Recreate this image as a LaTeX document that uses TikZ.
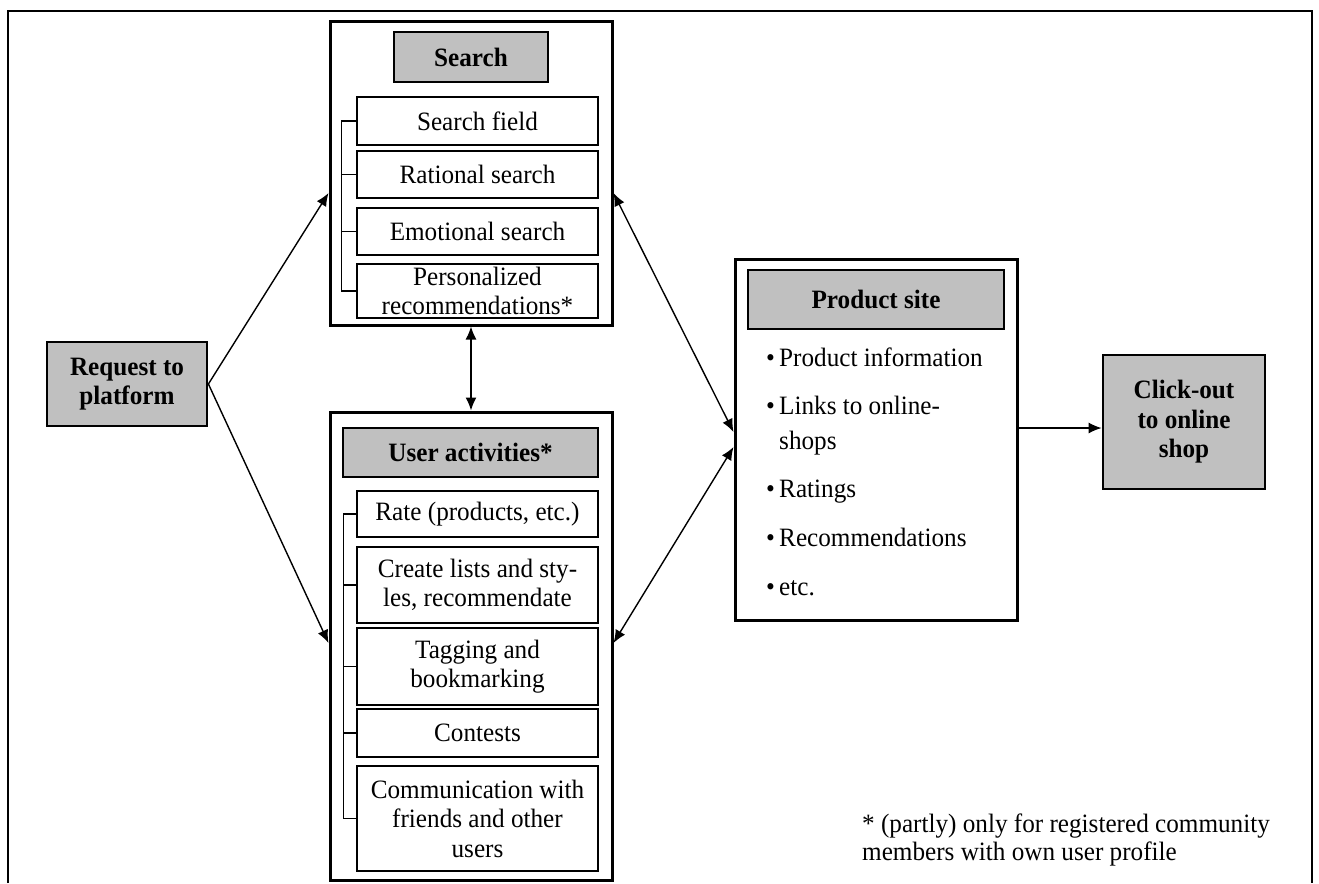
\documentclass[tikz,border=0pt]{standalone}
\usepackage{fontspec}
\setmainfont{Liberation Serif}[FakeStretch=0.95]
\usetikzlibrary{arrows.meta,calc}
\definecolor{hdr}{HTML}{C0C0C0}
\begin{document}
\begin{tikzpicture}[x=1pt,y=-1pt,
  outer/.style={draw,line width=3pt,inner sep=0pt,minimum width=282pt},
  sub/.style={draw,line width=2.8pt,inner sep=0pt,align=center,minimum width=241pt,
     font=\fontsize{26.5}{29.5}\selectfont},
  hbox/.style={draw,line width=2.8pt,fill=hdr,inner sep=0pt,align=center,
     font=\fontsize{26.5}{29.5}\selectfont\bfseries},
  arr/.style={line width=1.4pt,-{Latex[length=13pt,width=11pt]}},
  darr/.style={line width=1.4pt,{Latex[length=13pt,width=11pt]}-{Latex[length=13pt,width=11pt]}},
  brk/.style={line width=1.3pt},
  txt/.style={inner sep=0pt,font=\fontsize{26.5}{35}\selectfont}
]
\useasboundingbox (0,0) rectangle (1319,883);
% frame
\draw[line width=2.2pt] (8,883) -- (8,11) -- (1312,11) -- (1312,883);

% Search group
\node[outer,minimum height=303pt] (sbox) at (471,173.5) {};
\node[hbox,minimum width=154pt,minimum height=50pt] (sh) at (471,57) {Search};
\node[sub,minimum height=48pt] (sf) at (477.5,121) {Search field};
\node[sub,minimum height=47pt] (rs) at (477.5,174.5) {Rational search};
\node[sub,minimum height=47pt] (es) at (477.5,231.5) {Emotional search};
\node[sub,minimum height=54pt] (pr) at (477.5,291) {Personalized\\recommendations*};
\draw[brk] (sf.west) -- ++(-14,0) |- (pr.west);
\draw[brk] (rs.west) -- ++(-14,0);
\draw[brk] (es.west) -- ++(-14,0);

% User activities group
\node[outer,minimum height=468pt] (ubox) at (471,646) {};
\node[hbox,minimum width=255pt,minimum height=49pt] (uh) at (470.5,452.5) {User activities*};
\node[sub,minimum height=46pt] (ra) at (477.5,514) {Rate (products, etc.)};
\node[sub,minimum height=76pt] (cr) at (477.5,585) {Create lists and sty-\\les, recommendate};
\node[sub,minimum height=77pt] (ta) at (477.5,666.5) {Tagging and\\bookmarking};
\node[sub,minimum height=48pt] (co) at (477.5,733) {Contests};
\node[sub,minimum height=105pt] (cm) at (477.5,818.5) {Communication with\\friends and other\\users};
\draw[brk] (ra.west) -- ++(-12,0) |- (cm.west);
\draw[brk] (cr.west) -- ++(-12,0);
\draw[brk] (ta.west) -- ++(-12,0);
\draw[brk] (co.west) -- ++(-12,0);

% Request
\node[hbox,minimum width=160pt,minimum height=84pt] (req) at (127,384) {Request to\\platform};

% Product site
\node[outer,minimum height=361pt] (pbox) at (876,439.5) {};
\node[hbox,minimum width=256pt,minimum height=59pt] (ph) at (876,299.5) {Product site};
\node[txt,anchor=base west] (b1) at (766,366) {•};
\node[txt,anchor=base west] (t1) at (779,366) {Product information};
\node[txt,anchor=base west] (b2) at (766,414) {•};
\node[txt,anchor=base west] (t2) at (779,414) {Links to online-};
\node[txt,anchor=base west] (t2b) at (779,449) {shops};
\node[txt,anchor=base west] (b3) at (766,497) {•};
\node[txt,anchor=base west] (t3) at (779,497) {Ratings};
\node[txt,anchor=base west] (b4) at (766,546) {•};
\node[txt,anchor=base west] (t4) at (779,546) {Recommendations};
\node[txt,anchor=base west] (b5) at (766,595) {•};
\node[txt,anchor=base west] (t5) at (779,595) {etc.};

% Click-out
\node[hbox,minimum width=162pt,minimum height=134pt] (cl) at (1184,422) {Click-out\\to online\\shop};

% Footnote
\node[txt,anchor=base west] (fn1) at (862,832) {* (partly) only for registered community};
\node[txt,anchor=base west] (fn2) at (862,860) {members with own user profile};

% connectors
\draw[arr] (req.east) -- ($(sbox.west)+(0,19.5)$);
\draw[arr] (req.east) -- ($(ubox.west)+(0,-3)$);
\draw[darr] (sbox.south) -- (ubox.north);
\draw[darr] ($(sbox.east)+(0,19.5)$) -- ($(pbox.west)+(0,-7.5)$);
\draw[darr] ($(ubox.east)+(0,-3)$) -- ($(pbox.west)+(0,7.5)$);
\draw[arr] ($(pbox.east)+(0,-11.5)$) -- ($(cl.west)+(0,6)$);
\end{tikzpicture}
\end{document}
